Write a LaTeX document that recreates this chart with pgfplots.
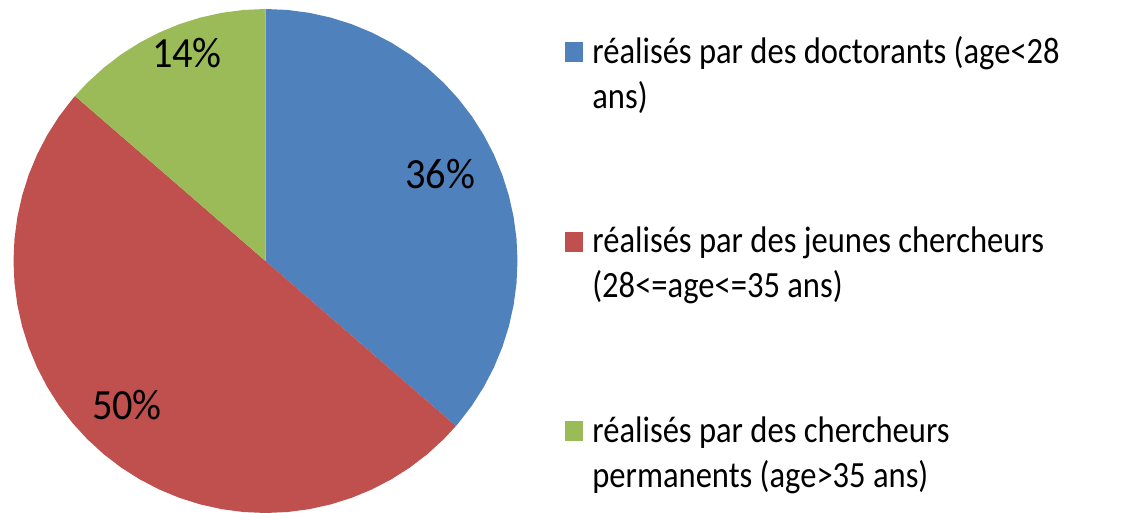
\documentclass[border=0pt]{standalone}
\usepackage{fontspec}
\setmainfont{Carlito}
\newfontfamily\legfont{Carlito}[FakeStretch=0.88]
\newfontfamily\pctfont{Carlito}[FakeStretch=0.94]
\usepackage{pgfplots}
\pgfplotsset{compat=1.18}
\usepgfplotslibrary{polar}
\definecolor{cblue}{HTML}{4F81BD}
\definecolor{cred}{HTML}{C0504D}
\definecolor{cgreen}{HTML}{9BBB59}
\begin{document}
\begin{tikzpicture}
\path[use as bounding box] (0,0) rectangle (571.5bp,256.5bp);
\begin{polaraxis}[
  at={(132.75bp,126bp)}, anchor=center,
  width=252bp, height=252bp, scale only axis,
  xmin=0, xmax=360, ymin=0, ymax=1,
  hide axis, clip=false,
  legend image code/.code={\fill[#1] (0bp,0.5bp) rectangle (9bp,10.5bp);},
  legend cell align=left,
  legend style={at={(axis description cs:1.0942,0.9554)}, anchor=north west,
    draw=none, fill=none, inner sep=0pt, column sep=4.5bp, row sep=77.5bp,
    font=\legfont\fontsize{18.5bp}{22.5bp}\selectfont,
    nodes={inner sep=0pt, anchor=base west},
    cells={anchor=base west}},
]
% shares: 36.36% (doctorants), 50% (jeunes chercheurs), 13.64% (permanents)
% -> 130.9 deg, 180 deg, 49.1 deg, clockwise from the top
\addplot[fill=cblue, draw=none] coordinates {(0,0) (90,1) (85,1) (80,1) (75,1) (70,1) (65,1) (60,1) (55,1) (50,1) (45,1) (40,1) (35,1) (30,1) (25,1) (20,1) (15,1) (10,1) (5,1) (0,1) (-5,1) (-10,1) (-15,1) (-20,1) (-25,1) (-30,1) (-35,1) (-40,1) (-40.9,1) (0,0)};
\addlegendentry{\begin{tabular}[t]{@{}l@{}}réalisés par des doctorants (age<28\\ans)\end{tabular}}
\addplot[fill=cred, draw=none] coordinates {(0,0) (139.1,1) (140,1) (145,1) (150,1) (155,1) (160,1) (165,1) (170,1) (175,1) (180,1) (185,1) (190,1) (195,1) (200,1) (205,1) (210,1) (215,1) (220,1) (225,1) (230,1) (235,1) (240,1) (245,1) (250,1) (255,1) (260,1) (265,1) (270,1) (275,1) (280,1) (285,1) (290,1) (295,1) (300,1) (305,1) (310,1) (315,1) (319.1,1) (0,0)};
\addlegendentry{\begin{tabular}[t]{@{}l@{}}réalisés par des jeunes chercheurs\\(28<=age<=35 ans)\end{tabular}}
\addplot[fill=cgreen, draw=none] coordinates {(0,0) (90,1) (95,1) (100,1) (105,1) (110,1) (115,1) (120,1) (125,1) (130,1) (135,1) (139.1,1) (0,0)};
\addlegendentry{\begin{tabular}[t]{@{}l@{}}réalisés par des chercheurs\\permanents (age>35 ans)\end{tabular}}
\node[font=\pctfont\fontsize{21.5bp}{26bp}\selectfont, inner sep=0pt] at (axis cs:110.7,0.882) {14\%};
\node[font=\pctfont\fontsize{21.5bp}{26bp}\selectfont, inner sep=0pt] at (axis cs:26.5,0.774) {36\%};
\node[font=\pctfont\fontsize{21.5bp}{26bp}\selectfont, inner sep=0pt] at (axis cs:226.1,0.793) {50\%};
\end{polaraxis}
\end{tikzpicture}
\end{document}
